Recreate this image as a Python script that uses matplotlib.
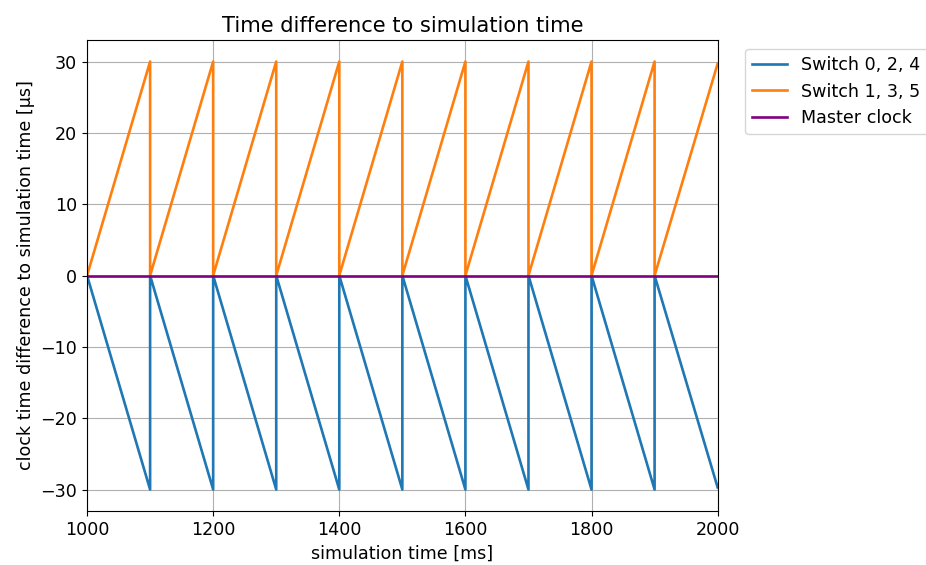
import matplotlib.pyplot as plt

plt.rcParams['font.size'] = 12.6

# sawtooth corner points: (time in ms, offset in us)
t_switch = [1000, 1100, 1100, 1200, 1200, 1300, 1300, 1400, 1400, 1500, 1500,
            1600, 1600, 1700, 1700, 1800, 1800, 1900, 1900, 2000]
off_even = [0, -30, 0, -30, 0, -30, 0, -30, 0, -30, 0,
            -30, 0, -30, 0, -30, 0, -30, 0, -29.7]
off_odd = [0, 30, 0, 30, 0, 30, 0, 30, 0, 30, 0,
           30, 0, 30, 0, 30, 0, 30, 0, 29.7]
t_master = [1000, 2000]
off_master = [0, 0]

fig = plt.figure(figsize=(9.26, 5.65), dpi=100)
ax = fig.add_axes([0.094, 0.0956, 0.681, 0.8334])

ax.plot(t_switch, off_even, color='tab:blue', lw=1.9, label='Switch 0, 2, 4')
ax.plot(t_switch, off_odd, color='tab:orange', lw=1.9, label='Switch 1, 3, 5')
ax.plot(t_master, off_master, color='purple', lw=1.9, label='Master clock')

ax.set_xlim(1000, 2000)
ax.set_ylim(-33, 33)
ax.set_xticks([1000, 1200, 1400, 1600, 1800, 2000])
ax.set_yticks([-30, -20, -10, 0, 10, 20, 30])
ax.grid(True)
ax.set_title('Time difference to simulation time')
ax.set_xlabel('simulation time [ms]')
ax.set_ylabel('clock time difference to simulation time [µs]')
ax.legend(loc='upper left', bbox_to_anchor=(1.03, 1))

fig.savefig('out.png', dpi=100)
